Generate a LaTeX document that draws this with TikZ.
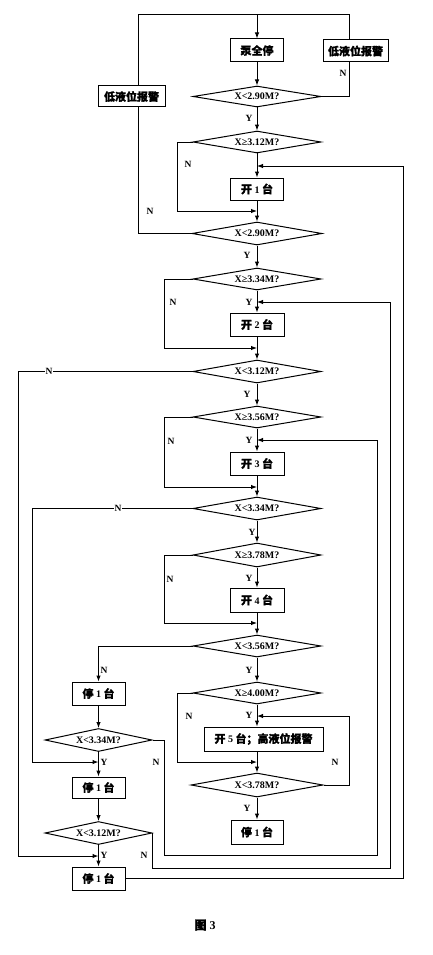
\documentclass[tikz,border=0pt]{standalone}
\usepackage{fontspec}
\setmainfont{Liberation Serif}
\newfontfamily\cjk{Noto Sans CJK SC}[FakeBold=1.2]
\usetikzlibrary{shapes.geometric,arrows.meta}
\newcommand\zh[1]{{\cjk\fontsize{11}{12}\selectfont #1}}
\begin{document}
\begin{tikzpicture}[x=1pt,y=-1pt,line width=1pt,
  box/.style={draw,inner sep=0pt,minimum width=54pt,minimum height=23pt,font=\bfseries\fontsize{10}{12}\selectfont},
  dia/.style={draw,diamond,aspect=5.8,inner sep=0pt,minimum width=128pt,minimum height=22pt,font=\bfseries\fontsize{10}{12}\selectfont},
  lbl/.style={inner sep=1pt,font=\bfseries\fontsize{9.5}{10}\selectfont},
  arr/.style={-{Latex[length=6pt,width=4.5pt]}}]
\useasboundingbox (0,0) rectangle (432,955);
% nodes
\node[box,minimum width=53pt] (stop) at (257,50.5) {\zh{泵全停}};
\node[box,minimum width=65pt,minimum height=22pt] (ra) at (355.5,51) {\zh{低液位报警}};
\node[box,minimum width=67pt,minimum height=21pt] (la) at (131.5,96.5) {\zh{低液位报警}};
\node[dia,minimum height=21pt] (d1) at (257,96.5) {X<2.90M?};
\node[dia] (d2) at (257,142) {X≥3.12M?};
\node[box,minimum width=53pt,minimum height=22pt] (b1) at (257,189) {\zh{开} 1 \zh{台}};
\node[dia,minimum width=130pt,minimum height=23pt] (d3) at (257,233.5) {X<2.90M?};
\node[dia] (d4) at (257,279) {X≥3.34M?};
\node[box] (b2) at (257,324.5) {\zh{开} 2 \zh{台}};
\node[dia,minimum height=23pt] (d5) at (257,371.5) {X<3.12M?};
\node[dia] (d6) at (257,417) {X≥3.56M?};
\node[box] (b3) at (257,463.5) {\zh{开} 3 \zh{台}};
\node[dia,minimum height=23pt] (d7) at (257,508.5) {X<3.34M?};
\node[dia,minimum height=24pt] (d8) at (257,555) {X≥3.78M?};
\node[box,minimum height=24pt] (b4) at (257,600) {\zh{开} 4 \zh{台}};
\node[dia] (d9) at (257,646) {X<3.56M?};
\node[dia] (d10) at (257,693) {X≥4.00M?};
\node[box,minimum width=119pt,minimum height=24pt] (b5) at (263.5,739) {\zh{开} 5 \zh{台；高液位报警}};
\node[dia,minimum width=132pt,minimum height=24pt] (d13) at (257,785) {X<3.78M?};
\node[box,minimum width=52pt,minimum height=24pt] (r1) at (257,832) {\zh{停} 1 \zh{台}};
\node[box,minimum width=53pt] (l1) at (98.5,693.5) {\zh{停} 1 \zh{台}};
\node[dia,minimum width=107pt,minimum height=23pt] (d11) at (98.5,740) {X<3.34M?};
\node[box,minimum width=53pt,minimum height=21pt] (l2) at (98.5,787.5) {\zh{停} 1 \zh{台}};
\node[dia,minimum width=107pt,minimum height=23pt] (d12) at (98.5,833) {X<3.12M?};
\node[box,minimum width=53pt] (l3) at (98.5,878.5) {\zh{停} 1 \zh{台}};
\node[font=\bfseries\fontsize{12}{12}\selectfont] (cap) at (205,925) {{\cjk 图} 3};
% coordinates
\coordinate (tl) at (138,15); \coordinate (tm) at (257,15); \coordinate (tr) at (349,15);
\coordinate (c2) at (177,211); \coordinate (m1) at (257,211);
\coordinate (c4) at (164,348); \coordinate (m2) at (257,348);
\coordinate (c5) at (18,856);  \coordinate (m5) at (98.5,856);
\coordinate (c6) at (164,487); \coordinate (m3) at (257,487);
\coordinate (c7) at (32,762);  \coordinate (m7) at (98.5,762);
\coordinate (c8) at (164,623); \coordinate (m4) at (257,623);
\coordinate (c10) at (177,762); \coordinate (m6) at (257,762);
\coordinate (c13) at (349,716); \coordinate (m8) at (257,716);
\coordinate (c11a) at (164,855); \coordinate (c11b) at (377,855); \coordinate (m9) at (257,440);
\coordinate (c12) at (390,868); \coordinate (m10) at (257,302);
\coordinate (c14) at (403,879); \coordinate (m11) at (257,166);
% connectors
\draw (la.north -| tl) -- (tl) -- (tr) -- (ra.north -| tr);
\draw[arr] (tm) -- (stop);
\draw[arr] (stop) -- (d1);
\draw (ra.south -| tr) |- (d1.east);
\draw[arr] (d1) -- (d2);
\draw[arr] (d2) -- (b1);
\draw[arr] (d2.west) -| (c2) -- (m1);
\draw[arr] (b1) -- (d3);
\draw (d3.west) -| (la.south -| tl);
\draw[arr] (d3) -- (d4);
\draw[arr] (d4) -- (b2);
\draw[arr] (d4.west) -| (c4) -- (m2);
\draw[arr] (b2) -- (d5);
\draw[arr] (d5.west) -| (c5) -- (m5);
\draw[arr] (d5) -- (d6);
\draw[arr] (d6) -- (b3);
\draw[arr] (d6.west) -| (c6) -- (m3);
\draw[arr] (b3) -- (d7);
\draw[arr] (d7.west) -| (c7) -- (m7);
\draw[arr] (d7) -- (d8);
\draw[arr] (d8) -- (b4);
\draw[arr] (d8.west) -| (c8) -- (m4);
\draw[arr] (b4) -- (d9);
\draw[arr] (d9.west) -| (l1.north);
\draw[arr] (d9) -- (d10);
\draw[arr] (d10) -- (b5.north -| d10);
\draw[arr] (d10.west) -| (c10) -- (m6);
\draw[arr] (b5.south -| d13) -- (d13);
\draw[arr] (d13.east) -| (c13) -- (m8);
\draw[arr] (d13) -- (r1);
\draw[arr] (l1) -- (d11);
\draw[arr] (d11) -- (l2);
\draw[arr] (d11.east) -| (c11a) -- (c11b) |- (m9);
\draw[arr] (l2) -- (d12);
\draw[arr] (d12) -- (l3);
\draw[arr] (d12.east) |- (c12) |- (m10);
\draw[arr] (l3.east) -- (l3.east -| c14) |- (m11);
% labels
\node[lbl] (n1) at (343,73) {N};
\node[lbl] (y1) at (249,118) {Y};
\node[lbl] (n2) at (188,164) {N};
\node[lbl] (n3) at (150,211) {N};
\node[lbl] (y3) at (247,255) {Y};
\node[lbl] (n4) at (173,302) {N};
\node[lbl] (y4) at (249,302) {Y};
\node[lbl,fill=white] (n5) at (49,371) {N};
\node[lbl] (y5) at (247,394) {Y};
\node[lbl] (n6) at (171,441) {N};
\node[lbl] (y6) at (249,440) {Y};
\node[lbl,fill=white] (n7) at (118,508.5) {N};
\node[lbl] (y7) at (252,532) {Y};
\node[lbl] (n8) at (170,579) {N};
\node[lbl] (y8) at (249,578) {Y};
\node[lbl] (n9) at (104,670) {N};
\node[lbl] (y9) at (249,670) {Y};
\node[lbl] (n10) at (189,716) {N};
\node[lbl] (y10) at (249,715) {Y};
\node[lbl] (n13) at (335,762) {N};
\node[lbl] (y13) at (247,808) {Y};
\node[lbl] (y11) at (104,762) {Y};
\node[lbl] (n11) at (156,762) {N};
\node[lbl] (y12) at (104,855) {Y};
\node[lbl] (n12) at (144,855) {N};
\end{tikzpicture}
\end{document}
